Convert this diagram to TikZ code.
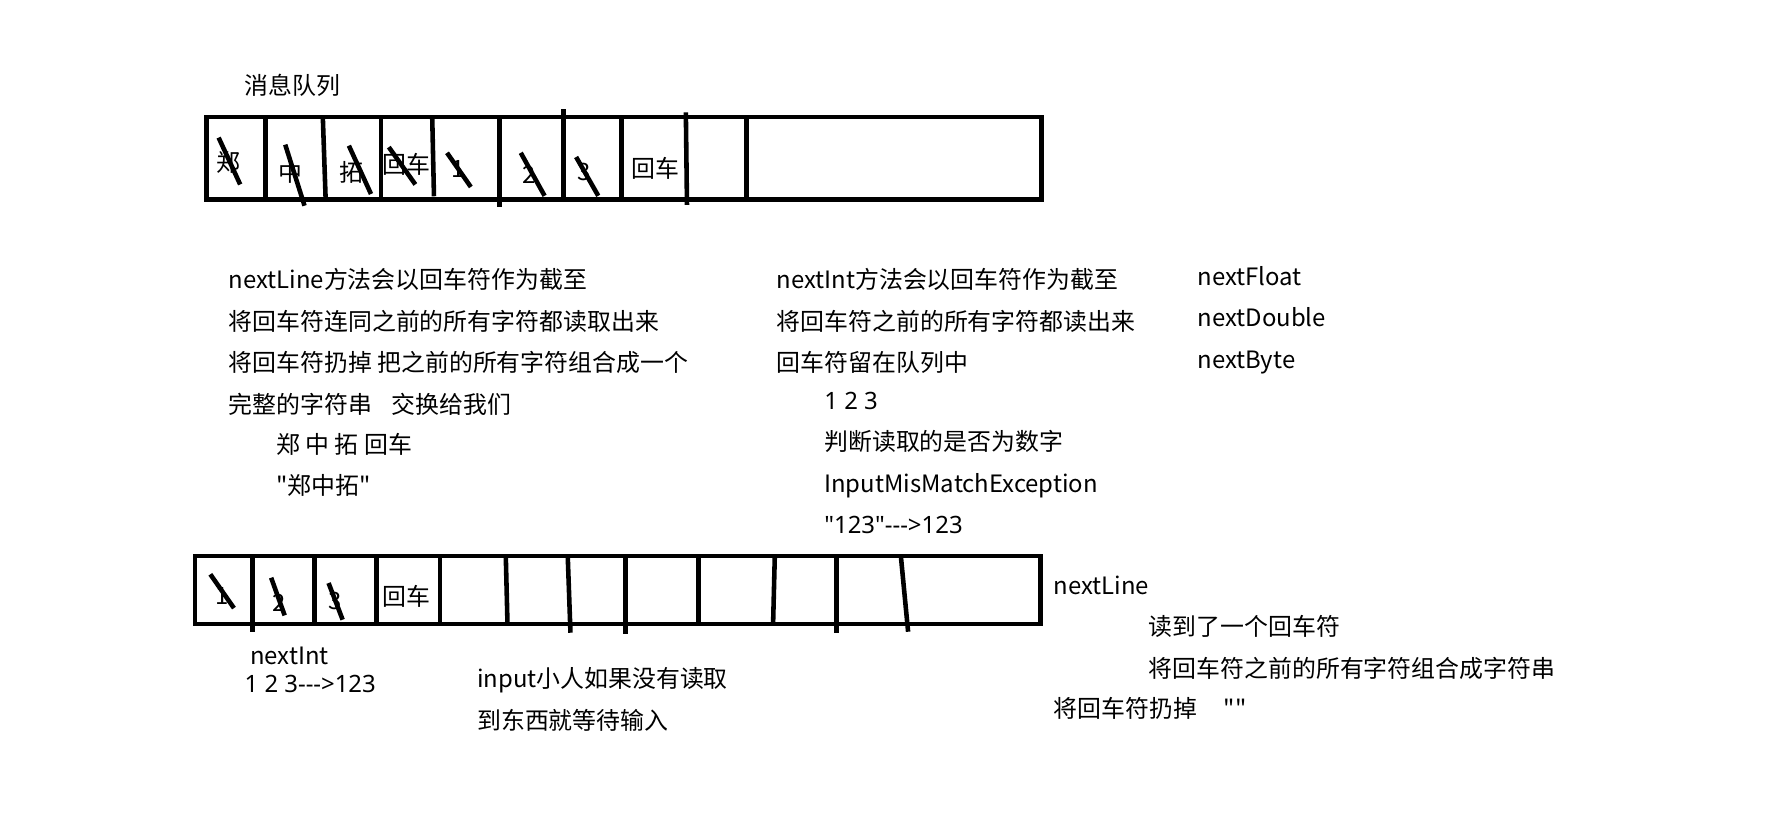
\documentclass[tikz,border=0pt]{standalone}
\usepackage{fontspec}
\newfontfamily\cjk{Noto Sans CJK SC}
\newfontfamily\lat{Noto Sans}
\newcommand{\notefont}{\cjk\fontsize{6.8pt}{11.8pt}\selectfont}

\begin{document}
\begin{tikzpicture}[x=0.11346mm, y=-0.11346mm,
    pen/.style={line width=1.3pt},
    txt/.style={anchor=north west, inner sep=0pt, align=left, font=\notefont},
    cell/.style={inner sep=0pt, font=\notefont}]

\useasboundingbox (0,0) rectangle (1568,717);

% message queue (top)
\node[txt, anchor=west] (title) at (215,75) {消息队列};
\draw[pen] (182,103) rectangle (918,176);
\foreach \xa/\ya/\xb/\yb in {234/103/234/176, 284.6/105/287/175, 335.9/103/335.9/176,
    381/105/382.5/173, 440.4/103/440.4/182.5, 496.5/96.5/496.5/176,
    547.8/103/547.8/176, 604.5/99/605.5/180.6, 658.2/103/658.2/176}
    \draw[pen] (\xa,\ya) -- (\xb,\yb);

% cell contents
\foreach \x/\y/\t [count=\k] in {201/143/郑, 256/152/中, 310/152/拓, 358/145/回车,
    404/149/1, 466/154/2, 515/152/3, 578/148/回车}
    \node[cell] (top\k) at (\x,\y) {\t};

% crossed out (already read)
\foreach \xa/\ya/\xb/\yb in {192.7/121.3/211.7/162.6, 251.4/127.5/268.4/181.3,
    307.5/128.4/327/171, 342.7/129.7/366.1/162.6, 394/134.7/415/164.8,
    459/134.7/480/172.6, 507.8/138.4/527.3/172.6}
    \draw[pen] (\xa,\ya) -- (\xb,\yb);

% nextLine / nextInt notes
\node[txt] (nl) at (201,236) {nextLine方法会以回车符作为截至\\
    将回车符连同之前的所有字符都读取出来\\
    将回车符扔掉 把之前的所有字符组合成一个\\
    完整的字符串\hspace{0.6em} 交换给我们};
\node[txt] (nlx) at (243,381) {郑 中 拓 回车\\"郑中拓"};

\node[txt] (ni) at (684,236) {nextInt方法会以回车符作为截至\\
    将回车符之前的所有字符都读出来\\
    回车符留在队列中};
\node[txt] (nix) at (726,345) {{\lat 1 2 3}\\判断读取的是否为数字\\
    InputMisMatchException\\{\lat "123"--->123}};

\node[txt] (others) at (1055,234) {nextFloat\\nextDouble\\nextByte};

% second queue (bottom)
\draw[pen] (172,490) rectangle (917,550);
\foreach \xa/\ya/\xb/\yb in {222.6/490/222.6/556.8, 277.2/490/277.2/550,
    331.7/490/331.7/550, 387.8/490/387.8/550, 445.8/490/447.3/550,
    500.4/490/502.8/557.7, 551.4/490/551.4/559.2, 615.4/490/615.4/550,
    682.9/490/681.4/550, 737.4/490/737.4/557.7, 794/490/800.4/556.8}
    \draw[pen] (\xa,\ya) -- (\xb,\yb);

\foreach \x/\y/\t [count=\k] in {196/525/1, 246/531/2, 295/530/3, 358/526/回车}
    \node[cell] (bot\k) at (\x,\y) {\t};

\foreach \xa/\ya/\xb/\yb in {185.4/506.2/206.2/536, 239/509.2/250.9/542.4,
    289.6/513.9/302/546.2}
    \draw[pen] (\xa,\ya) -- (\xb,\yb);

\node[txt, anchor=west] (nxi) at (220,578) {nextInt};
\node[txt, anchor=west] (nxv) at (215,603) {\lat 1 2 3--->123};
\node[txt] (inp) at (420,588) {input小人如果没有读取\\到东西就等待输入};

\node[txt, anchor=west] (lineb) at (928,516) {nextLine};
\node[txt] (rd) at (1012,542) {读到了一个回车符\\将回车符之前的所有字符组合成字符串};
\node[txt, anchor=west] (drop) at (928,624) {将回车符扔掉\hspace{0.9em} ""};

\end{tikzpicture}
\end{document}
